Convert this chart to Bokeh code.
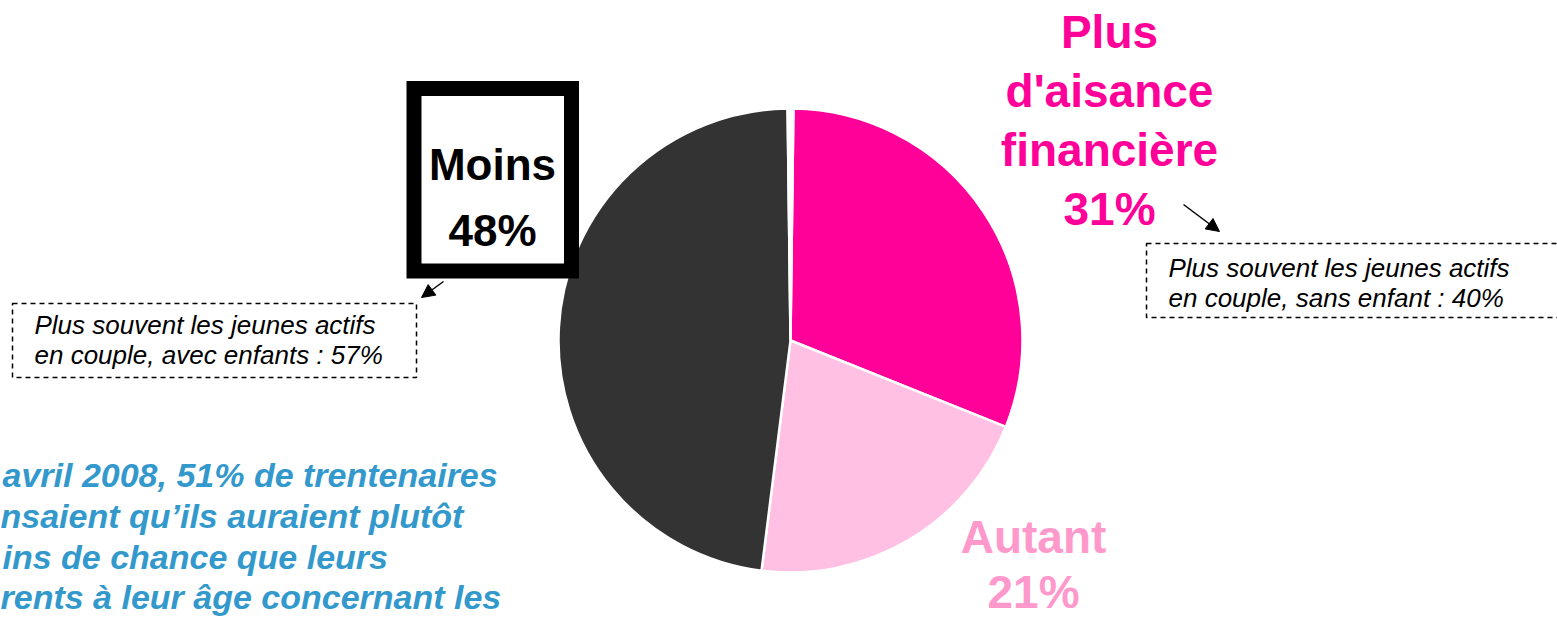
from bokeh.plotting import figure
from bokeh.models import Range1d, ColumnDataSource, Arrow, NormalHead
from bokeh.core.properties import value
from bokeh.embed import file_html
from bokeh.resources import INLINE
import numpy as np

# ---------------- data ----------------
categories = ["Plus d'aisance financière", "Autant", "Moins", "NSP"]
values = [31, 21, 48, 0.4]
slice_colors = ["#FF0099", "#FFC0E3", "#333333", "#FFFFFF"]

label_plus = ["Plus", "d'aisance", "financière", "31%"]
label_autant = ["Autant", "21%"]
label_moins = ["Moins", "48%"]
note_left = ["Plus souvent les jeunes actifs", "en couple, avec enfants : 57%"]
note_right = ["Plus souvent les jeunes actifs", "en couple, sans enfant : 40%"]
blue_text = ["avril 2008, 51% de trentenaires",
             "nsaient qu\u2019ils auraient plutôt",
             "ins de chance que leurs",
             "rents à leur âge concernant les"]

# ---------------- layout ----------------
W, H = 1557, 617
def sx(x):  # picture x -> data x
    return x
def sy(y):  # picture y -> data y
    return H - y

p = figure(width=W, height=H, output_backend="svg", toolbar_location=None,
           x_range=Range1d(0, W), y_range=Range1d(0, H),
           x_axis_type=None, y_axis_type=None, min_border=0,
           outline_line_color=None, background_fill_color="white")
p.grid.visible = False

FONT = "Liberation Sans"

# pie
vals = np.array(values, dtype=float)
fr = vals / vals.sum() * 2 * np.pi
start0 = np.pi / 2 - fr[-1] / 2
ends = start0 - np.cumsum(fr)
starts = np.concatenate([[start0], ends[:-1]])
src = ColumnDataSource(dict(cat=categories, start=starts, end=ends, color=slice_colors))
cx, cy, r = sx(790), sy(340), 232
p.wedge(x=cx, y=cy, radius=r, start_angle="start", end_angle="end", direction="clock",
        fill_color="color", line_color="white", line_width=2.5, source=src)

def lines(texts, x, ys, size, color, align="center", style="bold"):
    shift = 0.3 * size
    p.text(x=[x] * len(texts), y=[sy(v - shift) for v in ys], text=texts, text_align=align,
           text_baseline="alphabetic", text_font=value(FONT),
           text_font_size=value(f"{size}px"), text_font_style=style, text_color=color)

# Plus label
lines(label_plus, sx(1109), [45, 104, 163, 222], 46, "#FF0099")
# Autant label
lines(label_autant, sx(1033), [550, 605], 46, "#FF99CC")
# Moins box + label
p.quad(left=sx(413.5), right=sx(571), top=sy(88), bottom=sy(270.5),
       fill_color=None, line_color="black", line_width=15, line_join="miter")
lines(label_moins, sx(492), [177, 243], 44, "black")

# dashed note boxes
p.quad(left=sx(12), right=sx(416), top=sy(303), bottom=sy(377),
       fill_color=None, line_color="black", line_width=1.5, line_dash="5 4")
lines(note_left, sx(34), [332, 362], 26, "black", align="left", style="italic")

p.quad(left=sx(1146), right=sx(1600), top=sy(243), bottom=sy(317),
       fill_color=None, line_color="black", line_width=1.5, line_dash="5 4")
lines(note_right, sx(1168), [275, 305], 26, "black", align="left", style="italic")

# arrows
p.add_layout(Arrow(end=NormalHead(size=13, fill_color="black", line_color="black"),
                   x_start=sx(443), y_start=sy(281), x_end=sx(421), y_end=sy(297),
                   line_color="black", line_width=1.5))
p.add_layout(Arrow(end=NormalHead(size=13, fill_color="black", line_color="black"),
                   x_start=sx(1183), y_start=sy(204), x_end=sx(1219), y_end=sy(231),
                   line_color="black", line_width=1.5))

# blue commentary
lefts = [2, 0, 2, 0]
bases = [485, 526, 567, 607]
for t, lx, by in zip(blue_text, lefts, bases):
    lines([t], sx(lx), [by], 34, "#3399CC", align="left", style="bold italic")

open("out.html", "w").write(file_html(p, INLINE))
